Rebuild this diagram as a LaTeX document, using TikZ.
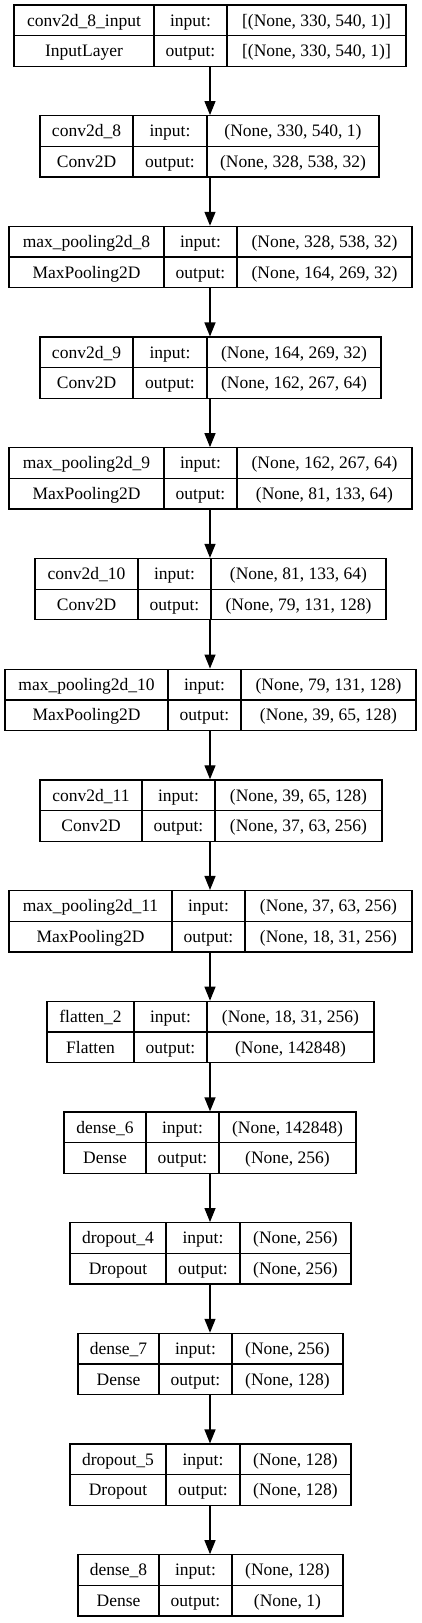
\documentclass[tikz,border=0pt]{standalone}
\usepackage{fontspec}
\setmainfont{Liberation Serif}
\usetikzlibrary{arrows.meta}
\tikzset{
  box/.style={draw=black, line width=1.3pt, rectangle, inner sep=0pt, minimum height=61.3pt},
  rule/.style={draw=black, line width=1.3pt},
  lbl/.style={anchor=base, inner sep=0pt, font=\fontsize{17.5}{21}\selectfont, text=black},
  arr/.style={draw=black, line width=1.3pt, -{Triangle[length=14pt,width=11pt]}}
}
\newcommand\kbox[9]{%
  \pgfmathsetmacro\kT{5+110.7*(#1-1)}%
  \pgfmathsetmacro\kB{\kT+61.3}%
  \pgfmathsetmacro\kM{\kT+30.65}%
  \pgfmathsetmacro\kRa{\kT+15.33+5.8}%
  \pgfmathsetmacro\kRb{\kT+45.98+5.8}%
  \node[box, minimum width={(#5-#2)*1pt}] (L#1) at ({(#2+#5)/2},\kM) {};
  \draw[rule] (#2,\kM) -- (#5,\kM);
  \draw[rule] (#3,\kT) -- (#3,\kB);
  \draw[rule] (#4,\kT) -- (#4,\kB);
  \node[lbl] (L#1name) at ({(#2+#3)/2},\kRa) {#6};
  \node[lbl] (L#1type) at ({(#2+#3)/2},\kRb) {#7};
  \node[lbl] (L#1inl) at ({(#3+#4)/2},\kRa) {input:};
  \node[lbl] (L#1outl) at ({(#3+#4)/2},\kRb) {output:};
  \node[lbl] (L#1in) at ({(#4+#5)/2},\kRa) {#8};
  \node[lbl] (L#1out) at ({(#4+#5)/2},\kRb) {#9};
}
\begin{document}
\begin{tikzpicture}[x=1pt,y=-1pt]
\useasboundingbox[fill=white] (0,0) rectangle (421,1623);
\kbox{1}{14}{154}{227}{406}{conv2d\_8\_input}{InputLayer}{[(None, 330, 540, 1)]}{[(None, 330, 540, 1)]}
\kbox{2}{40}{133}{207}{379}{conv2d\_8}{Conv2D}{(None, 330, 540, 1)}{(None, 328, 538, 32)}
\kbox{3}{9}{164}{237}{412}{max\_pooling2d\_8}{MaxPooling2D}{(None, 328, 538, 32)}{(None, 164, 269, 32)}
\kbox{4}{40}{133}{207}{381}{conv2d\_9}{Conv2D}{(None, 164, 269, 32)}{(None, 162, 267, 64)}
\kbox{5}{9}{164}{237}{412}{max\_pooling2d\_9}{MaxPooling2D}{(None, 162, 267, 64)}{(None, 81, 133, 64)}
\kbox{6}{35}{138}{211}{386}{conv2d\_10}{Conv2D}{(None, 81, 133, 64)}{(None, 79, 131, 128)}
\kbox{7}{5}{168}{241}{416}{max\_pooling2d\_10}{MaxPooling2D}{(None, 79, 131, 128)}{(None, 39, 65, 128)}
\kbox{8}{40}{142}{215}{382}{conv2d\_11}{Conv2D}{(None, 39, 65, 128)}{(None, 37, 63, 256)}
\kbox{9}{9}{172}{245}{412}{max\_pooling2d\_11}{MaxPooling2D}{(None, 37, 63, 256)}{(None, 18, 31, 256)}
\kbox{10}{47}{134}{207}{374}{flatten\_2}{Flatten}{(None, 18, 31, 256)}{(None, 142848)}
\kbox{11}{64}{146}{219}{356}{dense\_6}{Dense}{(None, 142848)}{(None, 256)}
\kbox{12}{70}{166}{240}{351}{dropout\_4}{Dropout}{(None, 256)}{(None, 256)}
\kbox{13}{78}{159}{232}{343}{dense\_7}{Dense}{(None, 256)}{(None, 128)}
\kbox{14}{70}{166}{240}{351}{dropout\_5}{Dropout}{(None, 128)}{(None, 128)}
\kbox{15}{78}{159}{232}{343}{dense\_8}{Dense}{(None, 128)}{(None, 1)}
\foreach \a/\b in {1/2,2/3,3/4,4/5,5/6,6/7,7/8,8/9,9/10,10/11,11/12,12/13,13/14,14/15}{
  \draw[arr] (210,0 |- L\a.south) -- (210,0 |- L\b.north);
}
\end{tikzpicture}
\end{document}
